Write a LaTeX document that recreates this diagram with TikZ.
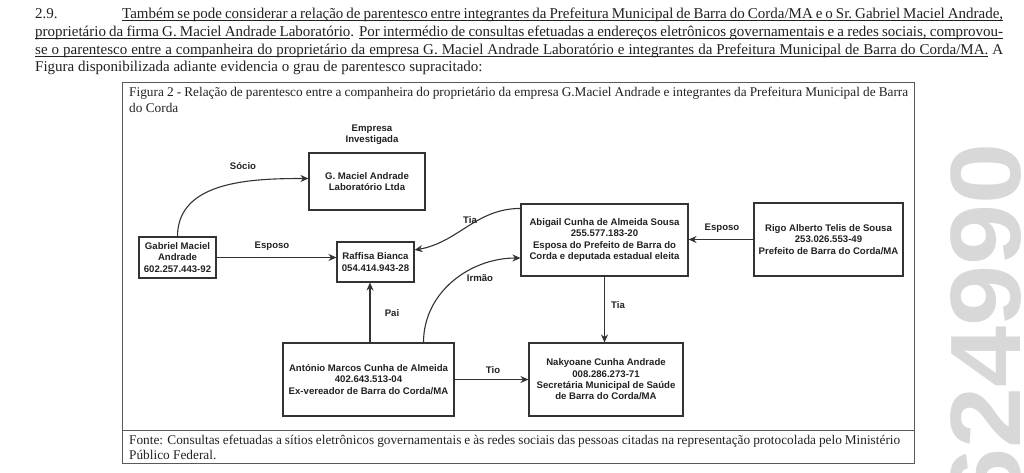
\documentclass[tikz,border=0pt]{standalone}
\usepackage{fontspec}
\setmainfont{Liberation Serif}
\newfontfamily\arialf{Liberation Sans}
\usetikzlibrary{arrows.meta}
\definecolor{ink}{HTML}{222222}
\definecolor{lines}{HTML}{333333}
\definecolor{wmgray}{HTML}{D8D8D8}
% word-by-word underline that keeps the spaces stretchable
\newcommand\uw[1]{\setbox0\hbox{#1}\rlap{\vrule height -1.7pt depth 2.4pt width \wd0}\box0\relax}
\newcommand\us{\leaders\hrule height -1.7pt depth 2.4pt\hskip\fontdimen2\font plus\fontdimen3\font minus\fontdimen4\font\relax}
\def\ulx#1 #2\ulend{\uw{#1}\ifx\relax#2\relax\else\us\ulx#2\ulend\fi}
\newcommand\ul[1]{\ulx#1 \ulend}
\tikzset{
  box/.style={draw=lines, line width=1.1pt, align=center, inner sep=0pt, text=ink,
    font=\arialf\bfseries\fontsize{9.6}{11.4}\selectfont},
  lbl/.style={inner sep=0pt, text=ink, font=\arialf\bfseries\fontsize{9.6}{11.4}\selectfont, align=center},
  arr/.style={draw=lines, line width=1.1pt, -{Stealth[length=8pt,width=7pt]}},
  para/.style={anchor=base west, inner sep=0pt, text=ink, font=\fontsize{15}{17}\selectfont},
  captext/.style={anchor=base west, inner sep=0pt, text=ink, font=\fontsize{13.3}{15}\selectfont},
  frame/.style={draw=black!65, line width=0.9pt},
}
\begin{document}
\begin{tikzpicture}[x=1pt,y=1pt]
\useasboundingbox[fill=white] (0,0) rectangle (1024,-472);
% watermark
\begin{scope}
\clip (0,0) rectangle (1024,-472);
\node[rotate=90, yscale=0.91, anchor=base west, inner sep=0pt, text=wmgray,
  font=\arialf\bfseries\fontsize{110}{110}\selectfont] (wm) at (1020,-510) {624990};
\end{scope}
% paragraph
\node[para] (p0) at (35,-18) {2.9.};
\node[para] (p1) at (122,-18) {\makebox[881pt][s]{\ul{Também se pode considerar a relação de parentesco entre integrantes da Prefeitura Municipal de Barra do Corda/MA e o Sr. Gabriel Maciel Andrade,}}};
\node[para] (p2) at (35,-36) {\makebox[968pt][s]{\ul{proprietário da firma G. Maciel Andrade Laboratório}. \ul{Por intermédio de consultas efetuadas a endereços eletrônicos governamentais e a redes sociais, comprovou-}}};
\node[para] (p3) at (35,-54) {\makebox[968pt][s]{\ul{se o parentesco entre a companheira do proprietário da empresa G. Maciel Andrade Laboratório e integrantes da Prefeitura Municipal de Barra do Corda/MA.} A}};
\node[para] (p4) at (35,-71.5) {Figura disponibilizada adiante evidencia o grau de parentesco supracitado:};
% frame
\draw[frame] (122,-82) rectangle (914,-463);
\draw[frame] (122,-430) -- (914,-430);
\node[captext] (c1) at (129,-96) {\makebox[779pt][s]{Figura 2 - Relação de parentesco entre a companheira do proprietário da empresa G.Maciel Andrade e integrantes da Prefeitura Municipal de Barra}};
\node[captext] (c2) at (129,-112) {do Corda};
\node[captext] (f1) at (129,-444) {\makebox[771pt][s]{Fonte: Consultas efetuadas a sítios eletrônicos governamentais e às redes sociais das pessoas citadas na representação protocolada pelo Ministério}};
\node[captext] (f2) at (129,-459) {Público Federal.};
% boxes
\node[lbl] (emplbl) at (372,-135) {Empresa\\Investigada};
\node[box, minimum width=116pt, minimum height=57pt] (empresa) at (367,-181.5) {G. Maciel Andrade\\Laboratório Ltda};
\node[box, minimum width=77pt, minimum height=41pt] (gabriel) at (177.5,-257.5) {Gabriel Maciel\\Andrade\\602.257.443-92};
\node[box, minimum width=77pt, minimum height=40pt] (raffisa) at (375.5,-262) {Raffisa Bianca\\054.414.943-28};
\node[box, minimum width=167pt, minimum height=72pt] (abigail) at (604.5,-240) {Abigail Cunha de Almeida Sousa\\255.577.183-20\\Esposa do Prefeito de Barra do\\Corda e deputada estadual eleita};
\node[box, minimum width=149pt, minimum height=73pt] (rigo) at (828.5,-239.5) {Rigo Alberto Telis de Sousa\\253.026.553-49\\Prefeito de Barra do Corda/MA};
\node[box, minimum width=171pt, minimum height=73pt] (antonio) at (368.5,-379.5) {António Marcos Cunha de Almeida\\402.643.513-04\\Ex-vereador de Barra do Corda/MA};
\node[box, minimum width=154pt, minimum height=73pt] (nakyoane) at (606,-379.5) {Nakyoane Cunha Andrade\\008.286.273-71\\Secretária Municipal de Saúde\\de Barra do Corda/MA};
% connectors
\draw[arr] (gabriel.north) to[out=90,in=180] ([yshift=3pt]empresa.west);
\draw[arr] (gabriel.east) -- (gabriel.east -| raffisa.west);
\draw[arr] ([yshift=-5pt]abigail.north west) to[out=180,in=10] ([yshift=12pt]raffisa.east);
\draw[arr] ([xshift=55pt]antonio.north) to[out=90,in=180] ([yshift=-18pt]abigail.west);
\draw[arr] ([xshift=1.5pt]antonio.north) -- ([xshift=1.5pt]antonio.north |- raffisa.south);
\draw[arr] (rigo.west) -- (rigo.west -| abigail.east);
\draw[arr] (abigail.south) -- (abigail.south |- nakyoane.north);
\draw[arr] (antonio.east) -- (antonio.east -| nakyoane.west);
% labels
\node[lbl] (lsocio) at (243,-166) {Sócio};
\node[lbl] (lesp1) at (272,-246) {Esposo};
\node[lbl] (ltia1) at (470,-220) {Tia};
\node[lbl] (lirmao) at (480,-278) {Irmão};
\node[lbl] (lpai) at (392,-313) {Pai};
\node[lbl] (lesp2) at (722,-228) {Esposo};
\node[lbl] (ltia2) at (618,-305) {Tia};
\node[lbl] (ltio) at (493,-370) {Tio};
\end{tikzpicture}
\end{document}
